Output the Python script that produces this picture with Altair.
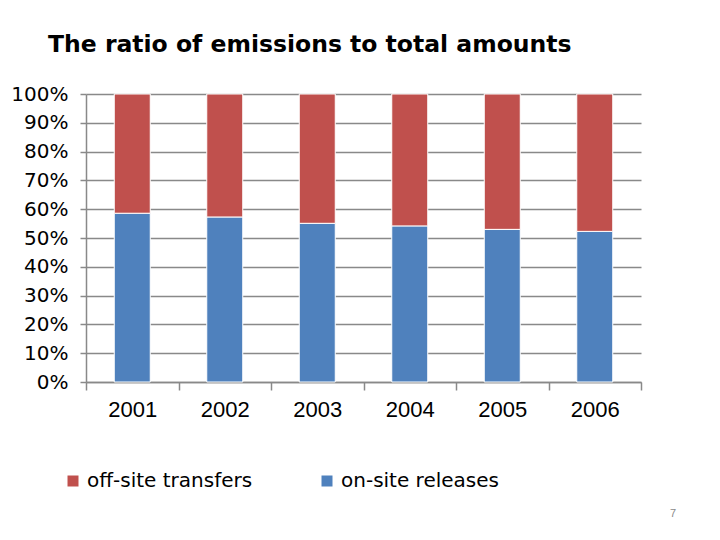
import altair as alt
import pandas as pd

years = ["2001", "2002", "2003", "2004", "2005", "2006"]
onsite = [58.6, 57.3, 55.1, 54.2, 53.0, 52.3]
offsite = [41.4, 42.7, 44.9, 45.8, 47.0, 47.7]
series = ["off-site transfers", "on-site releases"]
colors = ["#C0504D", "#4F81BD"]
title = "The ratio of emissions to total amounts"
page_no = "7"

rows = []
for y, a, b in zip(years, onsite, offsite):
    rows.append({"year": y, "series": series[1], "value": a, "ord": 0})
    rows.append({"year": y, "series": series[0], "value": b, "ord": 1})
df = pd.DataFrame(rows)

FONT = "Liberation Sans"
WIDE = "DejaVu Sans"
GRID = "#898989"

bars = alt.Chart(df).mark_bar(size=36, stroke="white", strokeWidth=1).encode(
    x=alt.X("year:N", title=None,
            scale=alt.Scale(paddingInner=0, paddingOuter=0),
            axis=alt.Axis(labelAngle=0, labelFontSize=22, labelFont=FONT, labelColor="#000000",
                          tickBand="extent", tickSize=8, tickColor=GRID, tickWidth=1.5,
                          domainColor=GRID, domainWidth=1.5, labelPadding=9)),
    y=alt.Y("value:Q", stack="normalize", title=None,
            scale=alt.Scale(domain=[0, 1]),
            axis=alt.Axis(format="%", values=[i / 10 for i in range(11)], labelFontSize=20,
                          labelFont=WIDE, labelColor="#000000", tickSize=6, tickColor=GRID,
                          tickWidth=1.5, domainColor=GRID, domainWidth=1.5, gridColor=GRID,
                          gridWidth=1.5, labelPadding=12)),
    color=alt.Color("series:N", scale=alt.Scale(domain=series, range=colors),
                    legend=alt.Legend(title=None, orient="none", legendX=-23, legendY=377,
                                      direction="horizontal", columns=2, columnPadding=64,
                                      symbolType="square", symbolSize=121, symbolStrokeWidth=0,
                                      labelFontSize=20, labelFont=WIDE, labelColor="#000000",
                                      labelOffset=4, labelLimit=400)),
    order=alt.Order("ord:Q", sort="ascending"),
)

pg = alt.Chart(pd.DataFrame({"t": [page_no]})).mark_text(
    fontSize=11, font=FONT, color="#8a8a8a"
).encode(text="t:N", x=alt.value(587), y=alt.value(420))

chart = alt.layer(bars, pg).properties(
    width=555, height=288,
    title=alt.TitleParams(title, anchor="start", frame="group", dx=-38, offset=28,
                          fontSize=23.5, font=WIDE, fontWeight="bold", color="#000000"),
    padding={"left": 78, "top": 86, "right": 60, "bottom": 140},
    autosize=alt.AutoSizeParams(type="none"),
).configure_view(stroke=None).configure_axis(gridOpacity=1)

chart.save("out.html", embed_options={"renderer": "svg", "actions": False})
